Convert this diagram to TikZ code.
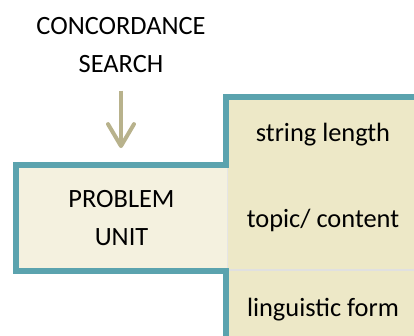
\documentclass[tikz,border=0pt]{standalone}
\usepackage{fontspec}
\setmainfont{Carlito}
\usepackage{xcolor}
\tikzset{>=latex}
\usetikzlibrary{arrows.meta}
\definecolor{tealframe}{RGB}{91,163,174}
\definecolor{khaki}{RGB}{184,178,140}
\definecolor{unitfill}{RGB}{244,241,223}
\definecolor{colfill}{RGB}{237,232,199}

\begin{document}
\begin{tikzpicture}[x=0.5pt, y=-0.5pt,
    lbl/.style={font=\fontsize{13.2}{19}\selectfont, align=center, text=black, inner sep=0pt},
    frame/.style={draw=tealframe, line width=3pt},
    feed/.style={draw=khaki, line width=2pt, -{Straight Barb[length=11pt, width=13pt, round]}}]
    \useasboundingbox (0,0) rectangle (414,336);
    % right column
    \fill[colfill] (226,97) rectangle (414,336);
    \draw[black!12, line width=1pt] (229,270) -- (414,270);
    \node[lbl, anchor=base] (strlen) at (323,142) {string length};
    \node[lbl, anchor=base] (topic) at (323,228) {topic/ content};
    \node[lbl, anchor=base] (lingform) at (323,317) {linguistic form};
    % problem unit
    \node[lbl, fill=unitfill, minimum width=105.5pt, minimum height=52.75pt] (problem) at (121.5,218.25) {PROBLEM\\UNIT};
    \draw[black!10, line width=0.5pt] (228,168) -- (228,268);
    \draw[frame] (226,336) -- (226,271) -- (16,271) -- (16,165.5) -- (226,165.5) -- (226,97) -- (414,97);
    % search
    \node[lbl] (search) at (121,45.5) {CONCORDANCE\\SEARCH};
    \draw[feed, shorten <=8.5pt, shorten >=8.5pt] (search.south) -- (search.south |- problem.north);
\end{tikzpicture}
\end{document}
